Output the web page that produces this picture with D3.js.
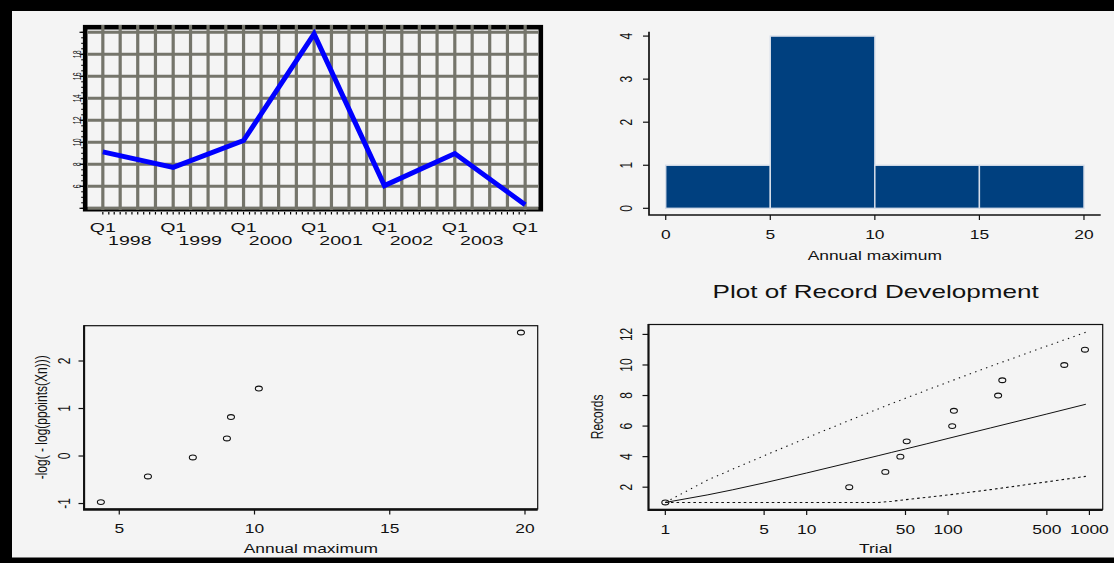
<!DOCTYPE html>
<html>
<head>
<meta charset="utf-8">
<script src="https://cdn.jsdelivr.net/npm/d3@7"></script>
<style>
  html, body { margin: 0; padding: 0; background: #f4f4f4; }
  svg { display: block; }
  text { font-family: "Liberation Sans", Arial, Helvetica, sans-serif; fill: #111; }
</style>
</head>
<body>
<svg id="chart" width="1114" height="563"></svg>
<script>
// ---- data ----
const quarterDates = ["1998-01-01", "1999-01-01", "2000-01-01", "2001-01-01", "2002-01-01", "2003-01-01", "2004-01-01"];
const annualMax = [9.13, 7.72, 10.16, 19.85, 6.06, 8.98, 4.32];
const yearLabels = ["1998", "1999", "2000", "2001", "2002", "2003"];

const histBreaks = [0, 5, 10, 15, 20];
const histCounts = [1, 4, 1, 1];

const gumbelX = [4.32, 6.06, 7.72, 8.98, 9.13, 10.16, 19.85];
const gumbelY = [-0.97, -0.43, -0.03, 0.37, 0.82, 1.42, 2.60];

const recordTrial = [1, 20, 36, 46, 51, 107, 110, 226, 242, 664, 930];
const recordCount = [1, 2, 3, 4, 5, 6, 7, 8, 9, 10, 11];

const curveTrial = [1, 2, 3, 5, 10, 20, 32, 40, 50, 70, 100, 200, 500, 944];
const expectedRecords = [1, 1.5, 1.83, 2.28, 2.93, 3.60, 4.06, 4.28, 4.50, 4.83, 5.19, 5.88, 6.79, 7.43];
const upperRecords = [1, 2.48, 3.18, 4.06, 5.23, 6.37, 7.12, 7.48, 7.82, 8.34, 8.88, 9.91, 11.24, 12.14];
const lowerRecords = [1, 1, 1, 1, 1, 1, 1, 1.08, 1.18, 1.33, 1.49, 1.84, 2.35, 2.71];

// ---- drawing ----
const svg = d3.select("#chart");
const SX = 1.45;           // horizontal stretch of the lettering
const INK = "#111";

// outer dark frame
svg.append("rect").attr("x", 0).attr("y", 0).attr("width", 1114).attr("height", 11).attr("fill", "#000");
svg.append("rect").attr("x", 0).attr("y", 0).attr("width", 12).attr("height", 563).attr("fill", "#000");
svg.append("rect").attr("x", 0).attr("y", 557.5).attr("width", 1114).attr("height", 6).attr("fill", "#000");

function hText(g, x, y, str, size, anchor) {
  return g.append("text")
    .attr("transform", `translate(${x},${y}) scale(${SX},1)`)
    .attr("text-anchor", anchor || "middle")
    .attr("font-size", size)
    .text(str);
}
function vText(g, x, y, str, size) {
  return g.append("text")
    .attr("transform", `translate(${x},${y}) scale(${SX},1) rotate(-90)`)
    .attr("text-anchor", "middle")
    .attr("font-size", size)
    .text(str);
}

// ===== Panel 1: quarterly series with heavy grid =====
(function () {
  const g = svg.append("g");
  const parse = d3.timeParse("%Y-%m-%d");
  const dates = quarterDates.map(parse);
  const x = d3.scaleTime()
    .domain([new Date(1997, 9, 1), new Date(2004, 3, 1)])
    .range([85.1, 542.7]);
  const y = d3.scaleLinear().domain([4, 20]).range([208.3, 32.3]);

  // frame
  g.append("rect")
    .attr("x", 85.2).attr("y", 27.2).attr("width", 455.6).attr("height", 182)
    .attr("fill", "none").attr("stroke", "#000").attr("stroke-width", 4.6);

  const gridColor = "#75756b";
  // horizontal grid
  g.selectAll(".hg").data(d3.range(4, 21, 2)).join("line")
    .attr("x1", 87.6).attr("x2", 538.4)
    .attr("y1", d => y(d)).attr("y2", d => y(d))
    .attr("stroke", gridColor).attr("stroke-width", 3);
  // vertical grid every quarter
  const qTicks = d3.timeMonth.every(3).range(new Date(1998, 0, 1), new Date(2004, 0, 2));
  g.selectAll(".vg").data(qTicks).join("line")
    .attr("x1", d => x(d)).attr("x2", d => x(d))
    .attr("y1", 25).attr("y2", 210)
    .attr("stroke", gridColor).attr("stroke-width", 3.2);

  // series
  g.append("path")
    .datum(dates.map((d, i) => [d, annualMax[i]]))
    .attr("fill", "none").attr("stroke", "#0000ff").attr("stroke-width", 5)
    .attr("stroke-linejoin", "miter").attr("stroke-miterlimit", 10)
    .attr("d", d3.line().x(d => x(d[0])).y(d => y(d[1])));

  // y ticks (major and minor)
  g.selectAll(".ymin").data(d3.range(4, 20.01, 0.5)).join("line")
    .attr("x1", 81.2).attr("x2", 83.5)
    .attr("y1", d => y(d)).attr("y2", d => y(d))
    .attr("stroke", "#000").attr("stroke-width", 1);
  g.selectAll(".ymaj").data(d3.range(4, 21, 2)).join("line")
    .attr("x1", 79.5).attr("x2", 83.5)
    .attr("y1", d => y(d)).attr("y2", d => y(d))
    .attr("stroke", "#000").attr("stroke-width", 1.2);
  d3.range(6, 19, 2).forEach(v => vText(g, 80.5, y(v), String(v), 7));

  // x ticks (monthly)
  const mTicks = d3.timeMonth.every(1).range(new Date(1998, 0, 1), new Date(2004, 0, 2));
  g.selectAll(".xm").data(mTicks).join("line")
    .attr("x1", d => x(d)).attr("x2", d => x(d))
    .attr("y1", 212).attr("y2", 214.5)
    .attr("stroke", "#000").attr("stroke-width", 1.2);

  dates.forEach((d, i) => {
    hText(g, x(d), 232.3, "Q1", 13.5);
    if (i < yearLabels.length) hText(g, x(d) + 27, 245, yearLabels[i], 13.5);
  });
})();

// ===== Panel 2: histogram =====
(function () {
  const g = svg.append("g");
  const x = d3.scaleLinear().domain([-0.8, 20.8]).range([649, 1100.7]);
  const y = d3.scaleLinear().domain([-0.16, 4.16]).range([215.2, 29.2]);

  const bins = histCounts.map((c, i) => ({ x0: histBreaks[i], x1: histBreaks[i + 1], c }));
  g.selectAll(".bar").data(bins).join("rect")
    .attr("x", d => x(d.x0)).attr("width", d => x(d.x1) - x(d.x0))
    .attr("y", d => y(d.c)).attr("height", d => y(0) - y(d.c))
    .attr("fill", "#00407f").attr("stroke", "#d6dde9").attr("stroke-width", 1.4);

  // L-shaped box
  g.append("path")
    .attr("d", `M649,31.7 L649,215 L1100.7,215`)
    .attr("fill", "none").attr("stroke", INK).attr("stroke-width", 1.7);

  // y axis
  const yt = [0, 1, 2, 3, 4];
  g.selectAll(".yt").data(yt).join("line")
    .attr("x1", 643).attr("x2", 649)
    .attr("y1", d => y(d)).attr("y2", d => y(d))
    .attr("stroke", INK).attr("stroke-width", 1.2);
  yt.forEach(v => vText(g, 631.5, y(v), String(v), 12));

  // x axis
  g.selectAll(".xt").data(histBreaks).join("line")
    .attr("x1", d => x(d)).attr("x2", d => x(d))
    .attr("y1", 215).attr("y2", 220)
    .attr("stroke", INK).attr("stroke-width", 1.2);
  histBreaks.forEach(v => hText(g, x(v), 239.3, String(v), 12));
  hText(g, (x(0) + x(20)) / 2, 260, "Annual maximum", 12);
})();

// ===== Panel 3: Gumbel probability plot =====
(function () {
  const g = svg.append("g");
  const x = d3.scaleLinear().domain([3.70, 20.47]).range([84.1, 537.7]);
  const y = d3.scaleLinear().domain([-1.113, 2.743]).range([508.9, 325.7]);

  g.append("rect")
    .attr("x", 84.1).attr("y", 325.7).attr("width", 537.7 - 84.1).attr("height", 508.9 - 325.7)
    .attr("fill", "none").attr("stroke", INK).attr("stroke-width", 1.2);
  g.append("path").attr("d", "M84.1,325.2 L84.1,509.6 L537.7,509.6")
    .attr("fill", "none").attr("stroke", INK).attr("stroke-width", 2.1);

  const yt = [-1, 0, 1, 2];
  g.selectAll(".yt").data(yt).join("line")
    .attr("x1", 78.5).attr("x2", 84.1)
    .attr("y1", d => y(d)).attr("y2", d => y(d))
    .attr("stroke", INK).attr("stroke-width", 1.2);
  yt.forEach(v => vText(g, 69.5, y(v), String(v), 12));
  vText(g, 47, (325.7 + 508.9) / 2, "-log( - log(ppoints(Xn)))", 12);

  const xt = [5, 10, 15, 20];
  g.selectAll(".xt").data(xt).join("line")
    .attr("x1", d => x(d)).attr("x2", d => x(d))
    .attr("y1", 509).attr("y2", 514.5)
    .attr("stroke", INK).attr("stroke-width", 1.2);
  xt.forEach(v => hText(g, x(v), 533, String(v), 12));
  hText(g, (84.1 + 537.7) / 2, 553, "Annual maximum", 12);

  g.selectAll(".pt").data(gumbelX.map((v, i) => [v, gumbelY[i]])).join("ellipse")
    .attr("cx", d => x(d[0])).attr("cy", d => y(d[1]))
    .attr("rx", 3.5).attr("ry", 2.4)
    .attr("fill", "none").attr("stroke", INK).attr("stroke-width", 1.1);
})();

// ===== Panel 4: record development =====
(function () {
  const g = svg.append("g");
  const x = d3.scaleLog().domain([Math.pow(10, -0.119), Math.pow(10, 3.094)]).range([648.5, 1102.7]);
  const y = d3.scaleLinear().domain([0.552, 12.65]).range([509.3, 324.5]);

  hText(g, (648.5 + 1102.7) / 2, 298, "Plot of Record Development", 18);

  g.append("rect")
    .attr("x", 648.5).attr("y", 324.5).attr("width", 1102.7 - 648.5).attr("height", 509.3 - 324.5)
    .attr("fill", "none").attr("stroke", INK).attr("stroke-width", 1.2);
  g.append("path").attr("d", "M648.5,324 L648.5,510 L1102.7,510")
    .attr("fill", "none").attr("stroke", INK).attr("stroke-width", 2.1);

  const yt = [2, 4, 6, 8, 10, 12];
  g.selectAll(".yt").data(yt).join("line")
    .attr("x1", 642.5).attr("x2", 648.5)
    .attr("y1", d => y(d)).attr("y2", d => y(d))
    .attr("stroke", INK).attr("stroke-width", 1.2);
  yt.forEach(v => vText(g, 632, y(v), String(v), 12));
  vText(g, 603, (324.5 + 509.3) / 2, "Records", 12);

  const xt = [1, 5, 10, 50, 100, 500, 1000];
  g.selectAll(".xt").data(xt).join("line")
    .attr("x1", d => x(d)).attr("x2", d => x(d))
    .attr("y1", 510).attr("y2", 515)
    .attr("stroke", INK).attr("stroke-width", 1.2);
  xt.forEach(v => hText(g, x(v), 533.6, String(v), 12));
  hText(g, (648.5 + 1102.7) / 2, 553, "Trial", 12);

  const line = d3.line().x(d => x(d[0])).y(d => y(d[1]));
  const pairs = arr => curveTrial.map((t, i) => [t, arr[i]]);
  g.append("path").datum(pairs(expectedRecords)).attr("d", line)
    .attr("fill", "none").attr("stroke", INK).attr("stroke-width", 1);
  g.append("path").datum(pairs(upperRecords)).attr("d", line)
    .attr("fill", "none").attr("stroke", INK).attr("stroke-width", 1.1)
    .attr("stroke-dasharray", "1.4 4.4");
  g.append("path").datum(pairs(lowerRecords)).attr("d", line)
    .attr("fill", "none").attr("stroke", INK).attr("stroke-width", 1.1)
    .attr("stroke-dasharray", "2.6 3");

  g.selectAll(".pt").data(recordTrial.map((t, i) => [t, recordCount[i]])).join("ellipse")
    .attr("cx", d => x(d[0])).attr("cy", d => y(d[1]))
    .attr("rx", 3.5).attr("ry", 2.4)
    .attr("fill", "none").attr("stroke", INK).attr("stroke-width", 1.1);
})();
</script>
</body>
</html>
